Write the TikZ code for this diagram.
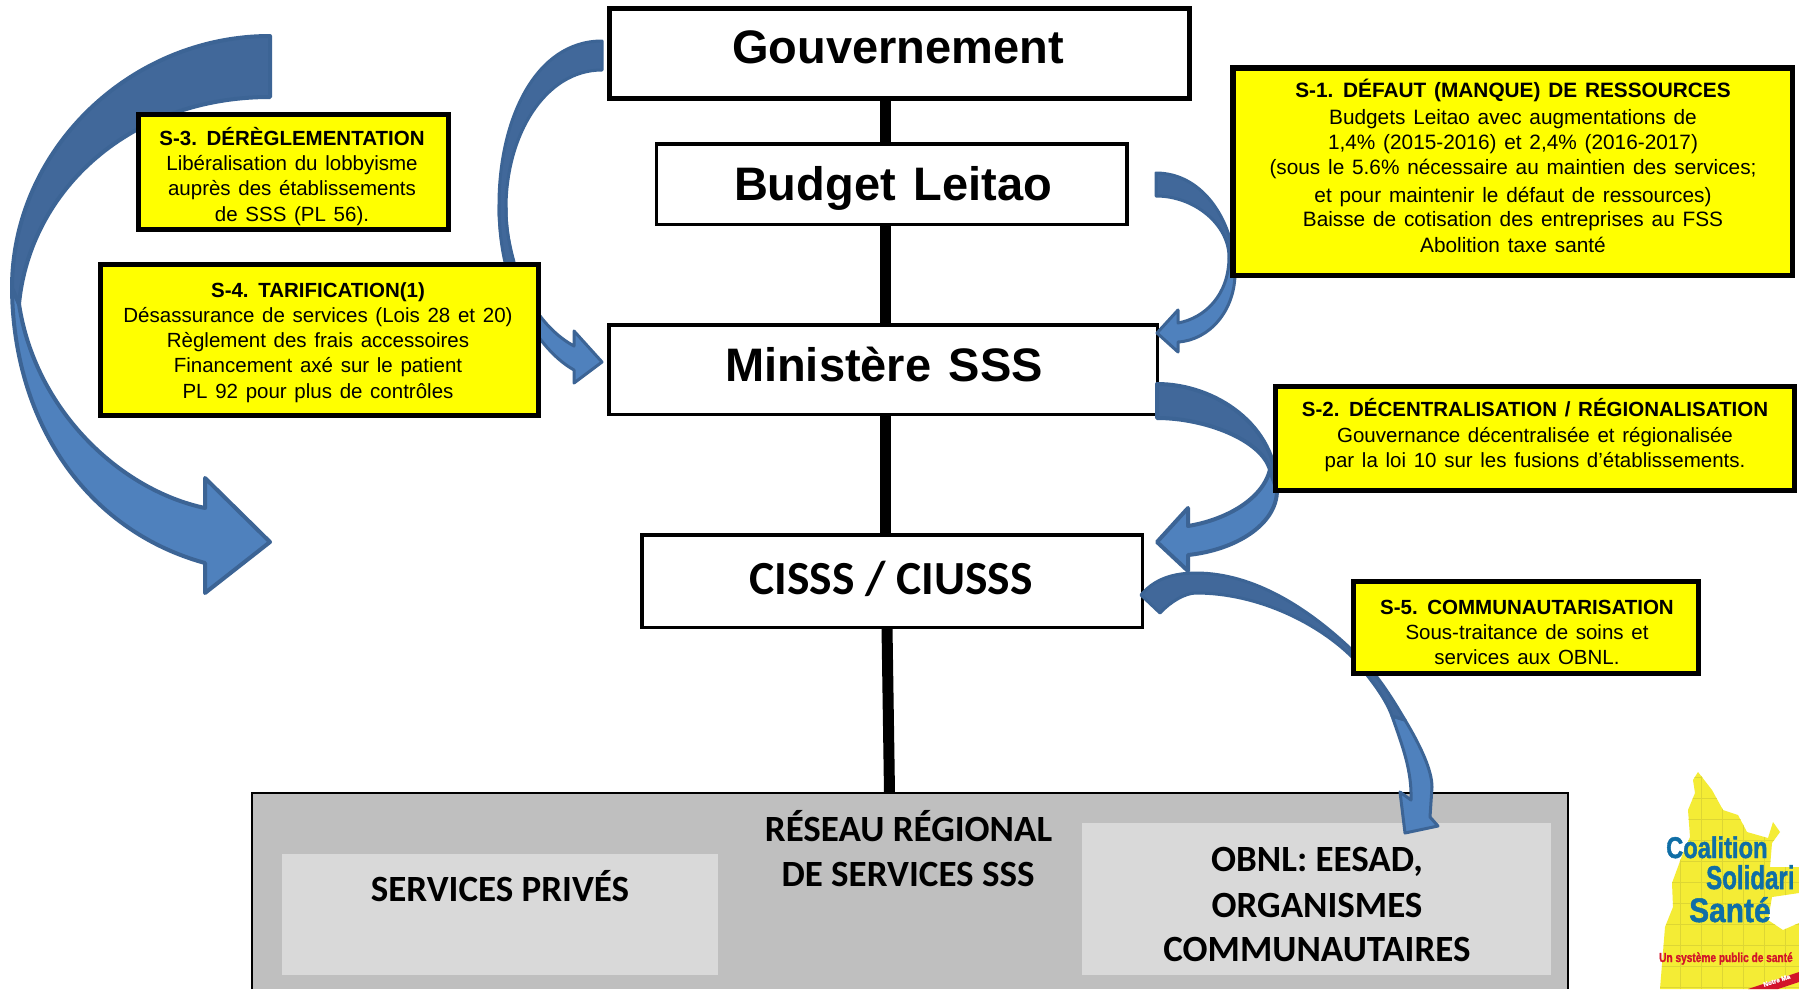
\documentclass[tikz,border=0pt]{standalone}
\usepackage{fontspec}
\setmainfont[WordSpace=1.35]{Liberation Sans}
\newfontfamily\calib{Carlito}
\newfontfamily\logof[BoldFeatures={FakeBold=1.5}]{Liberation Sans}
\definecolor{arrlight}{HTML}{4F81BD}
\definecolor{arrdark}{HTML}{41689A}
\definecolor{arredge}{HTML}{3C6495}
\definecolor{greyout}{HTML}{BFBFBF}
\definecolor{greyin}{HTML}{D9D9D9}
\definecolor{pureyellow}{RGB}{255,255,0}
\definecolor{logoyellow}{HTML}{F4EC35}
\definecolor{logogrid}{HTML}{DDD634}
\definecolor{logoblue}{HTML}{0F6EA6}
\definecolor{logored}{HTML}{D2142A}
\newcommand{\fs}[1]{\fontsize{#1}{#1}\selectfont}
\tikzset{
  mainbox/.style={draw=black,fill=white,line width=3.5pt,inner sep=0pt,outer sep=0pt},
  ybox/.style={draw=black,fill=pureyellow,line width=5pt,inner sep=0pt,outer sep=0pt},
  ytext/.style={anchor=base,inner sep=0pt,align=center,font=\fontsize{20.5}{24}\selectfont},
  maintitle/.style={anchor=base,inner sep=0pt,font=\fs{47}\bfseries},
  caltext/.style={anchor=base,inner sep=0pt,align=center,font=\calib\bfseries\fs{37}},
  link/.style={draw=black,line width=11pt},
  lightface/.style={fill=arrlight,draw=arredge,line width=3pt,line join=round},
  darkface/.style={fill=arrdark,draw=arredge,line width=3pt,line join=round},
  thickedge/.style={line width=4pt},
  logoname/.style={anchor=base west,inner sep=0pt,font=\logof\bfseries,text=logoblue},
}
\begin{document}
\begin{tikzpicture}[x=1pt,y=-1pt]
\useasboundingbox (0,0) rectangle (1799,989);
\fill[white] (0,0) rectangle (1799,989);
\coordinate (lx) at (885,0);
% main boxes
\node[mainbox,line width=5pt,minimum width=580pt,minimum height=90pt] (gouv) at (899.5,53.5) {};
\node[mainbox,minimum width=470.5pt,minimum height=80.5pt] (budget) at (891.5,184) {};
\node[mainbox,minimum width=548.5pt,minimum height=89.5pt] (minis) at (883,369.5) {};
\node[mainbox,minimum width=500.5pt,minimum height=92.5pt] (cisss) at (892,581) {};
\node[fill=greyout,inner sep=0pt,outer sep=0pt,minimum width=1316pt,minimum height=196pt] (reseau) at (910,891) {};
\draw[black,line width=1.5pt] (reseau.south west) -- (reseau.north west) -- (reseau.north east) -- (reseau.south east);
\node[fill=greyin,inner sep=0pt,minimum width=436pt,minimum height=121pt] (prive) at (500,914.5) {};
\node[fill=greyin,inner sep=0pt,minimum width=469pt,minimum height=152pt] (obnl) at (1316.5,899) {};
% links
\draw[link] (gouv.south -| lx) -- (budget.north -| lx);
\draw[link] (budget.south -| lx) -- (minis.north -| lx);
\draw[link] (minis.south -| lx) -- (cisss.north -| lx);
\coordinate (l5a) at (887,0);
\coordinate (l5b) at (889.5,0);
\draw[link] (cisss.south -| l5a) -- (reseau.north -| l5b);
% titles
\node[maintitle] (tgouv) at (898,63) {Gouvernement};
\node[maintitle] (tbudget) at (893,200) {Budget Leitao};
\node[maintitle] (tminis) at (884,381) {Ministère SSS};
\node[caltext,font=\calib\bfseries\fs{47.5}] (tcisss) at (891,594) {CISSS / CIUSSS};
\node[caltext] (tres) at (908.5,841) {RÉSEAU RÉGIONAL};
\node[caltext] (tres2) at (908,886) {DE SERVICES SSS};
\node[caltext] (tprive) at (500,901) {SERVICES PRIVÉS};
\node[caltext] (tobnl1) at (1317,871) {OBNL: EESAD,};
\node[caltext] (tobnl2) at (1317,917) {ORGANISMES};
\node[caltext] (tobnl3) at (1317,961) {COMMUNAUTAIRES};
% big arrow left
\path[lightface,thickedge] (12,285) .. controls (12,420) and (85,530) .. (205,563) -- (205,593) -- (270,542) -- (205,478) -- (205,508) .. controls (120,490) and (35,410) .. (19,304) -- cycle;
\path[darkface,thickedge] (270,36) .. controls (130,36) and (12,150) .. (12,288) -- (19,304) .. controls (30,190) and (130,97) .. (270,97) -- cycle;
% S-4 arrow
\path[lightface] (499,205) .. controls (499,275) and (530,345) .. (574,370) -- (574,383) -- (602,362) -- (574,331) -- (574,346) .. controls (535,325) and (506,270) .. (506,208) -- cycle;
\path[darkface] (602,41) .. controls (535,41) and (499,120) .. (499,205) .. controls (499,225) and (501,245) .. (505,262) -- (514,262) .. controls (508,240) and (506,225) .. (506,208) .. controls (506,135) and (545,70) .. (602,70) -- cycle;
% budget arrow
\path[lightface] (1235,273) .. controls (1235,310) and (1210,340) .. (1178,342) -- (1178,352) -- (1157,333) -- (1178,310) -- (1178,323) .. controls (1205,318) and (1229,295) .. (1229,257) -- cycle;
\path[darkface] (1156,173) .. controls (1205,173) and (1235,225) .. (1235,273) -- (1229,257) .. controls (1229,225) and (1195,196) .. (1156,196) -- cycle;
% S-2 arrow
\path[lightface,thickedge] (1277,490) .. controls (1277,525) and (1235,550) .. (1188,555) -- (1188,571) -- (1157,542) -- (1188,508) -- (1188,526) .. controls (1225,520) and (1262,500) .. (1270,470) -- cycle;
\path[darkface,thickedge] (1157,384) .. controls (1215,384) and (1277,425) .. (1277,490) -- (1270,470) .. controls (1262,440) and (1205,418) .. (1157,418) -- cycle;
% S-5 arrow
\path[lightface] (1405,720) .. controls (1420,745) and (1432,770) .. (1432,787) -- (1430,817) -- (1438,826) -- (1405,833) -- (1400,792) -- (1411,800) .. controls (1412,770) and (1402,745) .. (1392,716) -- cycle;
\path[darkface] (1141,595) .. controls (1155,578) and (1175,573) .. (1196,573) .. controls (1255,573) and (1310,610) .. (1352,650) .. controls (1375,670) and (1392,698) .. (1405,720) -- (1392,716) .. controls (1385,697) and (1370,678) .. (1352,657) .. controls (1320,625) and (1260,593) .. (1196,593) .. controls (1185,593) and (1170,602) .. (1160,613) -- cycle;
% yellow boxes
\node[ybox,minimum width=310pt,minimum height=115.5pt] (s3) at (293.5,171.75) {};
\node[ybox,minimum width=438pt,minimum height=151pt] (s4) at (319.5,340) {};
\node[ybox,line width=5.5pt,minimum width=559.5pt,minimum height=207.5pt] (s1) at (1512.5,171.5) {};
\node[ybox,minimum width=519pt,minimum height=104pt] (s2) at (1535,438.5) {};
\node[ybox,minimum width=345pt,minimum height=92pt] (s5) at (1526,627.5) {};
\node[ytext] (t3) at (292,221) {\textbf{S-3. DÉRÈGLEMENTATION}\\[1pt]Libéralisation du lobbyisme\\[1pt]auprès des établissements\\[2pt]de SSS (PL 56).};
\node[ytext] (t4) at (318,398.5) {\textbf{S-4. TARIFICATION(1)}\\[1pt]Désassurance de services (Lois 28 et 20)\\[1pt]Règlement des frais accessoires\\[1pt]Financement axé sur le patient\\[2pt]PL 92 pour plus de contrôles};
\node[ytext,font=\fontsize{20.8}{24}\selectfont] (t1) at (1513,252) {\textbf{S-1. DÉFAUT (MANQUE) DE RESSOURCES}\\[3pt]Budgets Leitao avec augmentations de\\[1pt]1,4\% (2015-2016) et 2,4\% (2016-2017)\\[1pt](sous le 5.6\% nécessaire au maintien des services;\\[4pt]et pour maintenir le défaut de ressources)\\[0pt]Baisse de cotisation des entreprises au FSS\\[2pt]Abolition taxe santé};
\node[ytext] (t2) at (1535,467) {\textbf{S-2. DÉCENTRALISATION / RÉGIONALISATION}\\[2pt]Gouvernance décentralisée et régionalisée\\[1pt]par la loi 10 sur les fusions d’établissements.};
\node[ytext] (t5) at (1527,664) {\textbf{S-5. COMMUNAUTARISATION}\\[1pt]Sous-traitance de soins et\\[1pt]services aux OBNL.};
% logo
\begin{scope}
\clip (1640,760) rectangle (1799,989);
\path[fill=logoyellow,draw=none] (1698,772) -- (1712,790) -- (1723,810) -- (1738,815) -- (1747,832) -- (1768,838) -- (1773,822) -- (1780,832) -- (1772,843) -- (1770,867) -- (1799,867) -- (1799,893) -- (1772,897) -- (1768,920) -- (1783,930) -- (1799,923) -- (1799,989) -- (1660,989) -- (1665,927) -- (1673,907) -- (1672,883) -- (1683,853) -- (1690,837) -- (1688,810) -- (1695,793) -- (1693,780) -- cycle;
\begin{scope}
\clip (1698,772) -- (1712,790) -- (1723,810) -- (1738,815) -- (1747,832) -- (1768,838) -- (1773,822) -- (1780,832) -- (1772,843) -- (1770,867) -- (1799,867) -- (1799,893) -- (1772,897) -- (1768,920) -- (1783,930) -- (1799,923) -- (1799,989) -- (1660,989) -- (1665,927) -- (1673,907) -- (1672,883) -- (1683,853) -- (1690,837) -- (1688,810) -- (1695,793) -- (1693,780) -- cycle;
\draw[logogrid,line width=0.8pt,step=21pt] (1640,760) grid (1799,989);
\end{scope}
\node[logoname,font=\logof\bfseries\fs{30},xscale=.79] (lg1) at (1666,858) {Coalition};
\node[logoname,font=\logof\bfseries\fs{33},xscale=.73] (lg2) at (1706,889) {Solidari};
\node[logoname,font=\logof\bfseries\fs{34},xscale=.88] (lg3) at (1689,922) {Santé};
\node[logoname,font=\logof\bfseries\fs{13},text=logored,xscale=.78] (lg4) at (1659,962) {Un système public de santé};
\fill[logored] (1748,989) -- (1799,972) -- (1799,982) -- (1778,989) -- cycle;
\node[logoname,font=\logof\bfseries\fs{6.5},text=white,rotate=18] (lg5) at (1764,987) {Notre Ma};
\end{scope}
\end{tikzpicture}
\end{document}
